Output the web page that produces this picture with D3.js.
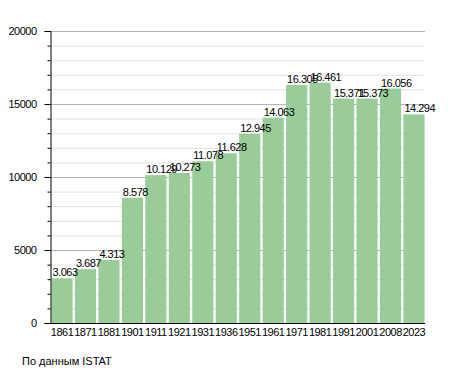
<!DOCTYPE html>
<html>
<head>
<meta charset="utf-8">
<script src="https://cdn.jsdelivr.net/npm/d3@7"></script>
<style>
  body { margin: 0; background: #fff; }
  text { font-family: "Liberation Sans", Arial, sans-serif; fill: #000; letter-spacing: -0.5px; }
</style>
</head>
<body>
<svg id="chart" width="455" height="373"></svg>
<script>
const years = ['1861', '1871', '1881', '1901', '1911', '1921', '1931', '1936', '1951', '1961', '1971', '1981', '1991', '2001', '2008', '2023'];
const population = [3063, 3687, 4313, 8578, 10129, 10273, 11078, 11628, 12945, 14063, 16305, 16461, 15371, 15373, 16056, 14294];
const labels = ['3.063', '3.687', '4.313', '8.578', '10.129', '10.273', '11.078', '11.628', '12.945', '14.063', '16.305', '16.461', '15.371', '15.373', '16.056', '14.294'];
const majorTicks = [0, 5000, 10000, 15000, 20000];

const svg = d3.select('#chart');
const margin = { top: 31, right: 30, bottom: 50, left: 50 };
const width = 455, height = 373;
const font = '"Liberation Sans", Arial, sans-serif';

const x = d3.scaleBand()
  .domain(years)
  .range([margin.left + 1, width - margin.right])
  .paddingInner(0.1)
  .paddingOuter(0.02);

const y = d3.scaleLinear()
  .domain([0, 20000])
  .range([height - margin.bottom, margin.top]);

// minor grid
const minor = d3.range(0, 20001, 1000).filter(v => v % 5000 !== 0);
svg.append('g')
  .selectAll('line')
  .data(minor)
  .join('line')
  .attr('x1', margin.left)
  .attr('x2', width - margin.right)
  .attr('y1', d => y(d) + 0.5)
  .attr('y2', d => y(d) + 0.5)
  .attr('stroke', '#e2e2e2');

// major grid
svg.append('g')
  .selectAll('line')
  .data(majorTicks.filter(d => d > 0))
  .join('line')
  .attr('x1', margin.left)
  .attr('x2', width - margin.right)
  .attr('y1', d => y(d) + 0.5)
  .attr('y2', d => y(d) + 0.5)
  .attr('stroke', '#b4b4b4');

// bars
svg.append('g')
  .selectAll('rect')
  .data(population)
  .join('rect')
  .attr('x', (d, i) => x(years[i]))
  .attr('y', d => y(d))
  .attr('width', x.bandwidth())
  .attr('height', d => y(0) - y(d))
  .attr('fill', '#99cc99');

// value labels
svg.append('g')
  .selectAll('text')
  .data(population)
  .join('text')
  .attr('x', (d, i) => x(years[i]) + 1)
  .attr('y', d => y(d) - 2)
  .attr('font-size', 11)
  .text((d, i) => labels[i]);

// y axis
const yAxis = svg.append('g')
  .attr('transform', `translate(${margin.left + 0.5},0)`)
  .call(d3.axisLeft(y).tickValues(majorTicks).tickSize(6).tickPadding(8).tickFormat(d3.format('d')));
yAxis.selectAll('text').attr('font-size', 11).attr('font-family', font);
yAxis.select('.domain').attr('stroke', '#000');

svg.append('g')
  .attr('transform', `translate(${margin.left + 0.5},0)`)
  .call(d3.axisLeft(y).tickValues(minor).tickSize(3).tickFormat(''))
  .select('.domain').remove();

// x axis
const xAxis = svg.append('g')
  .attr('transform', `translate(0,${y(0) + 0.5})`)
  .call(d3.axisBottom(x).tickSize(0).tickPadding(5));
xAxis.selectAll('text').attr('font-size', 11).attr('font-family', font);
xAxis.select('.domain').attr('d', `M${margin.left},0H${width - margin.right}`).attr('stroke', '#000');

// source note
svg.append('text')
  .attr('x', 22)
  .attr('y', 365)
  .attr('font-size', 11)
  .style('letter-spacing', '0px')
  .text('По данным  ISTAT');
</script>
</body>
</html>
